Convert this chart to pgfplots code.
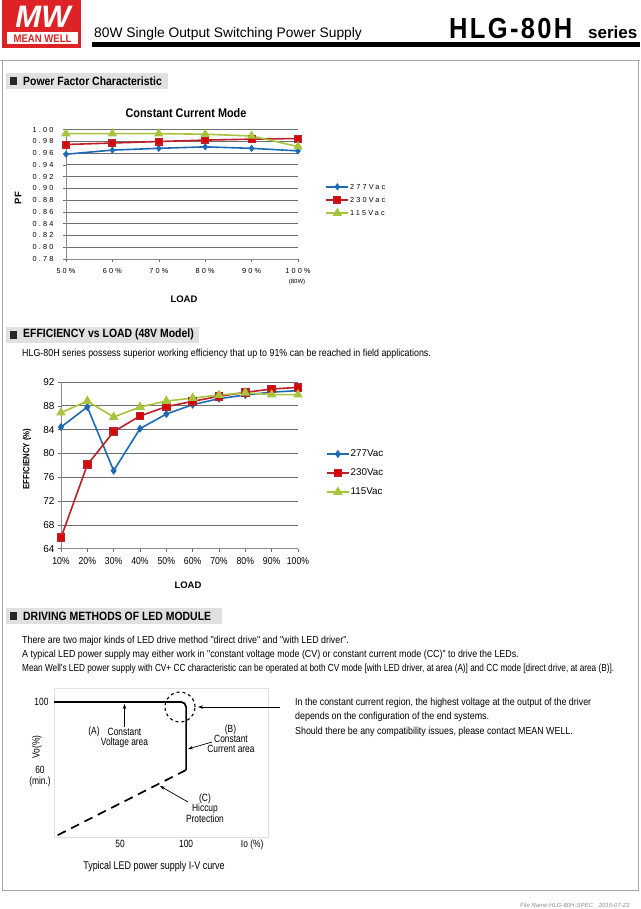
\documentclass[border=0pt]{standalone}
\usepackage{fontspec}
\setmainfont{Liberation Sans}
\newfontfamily\cond[FakeStretch=0.87]{Liberation Sans}
\newfontfamily\narrow[FakeStretch=0.80]{Liberation Sans}
\newfontfamily\spaced[LetterSpace=30]{Liberation Sans}
\newfontfamily\wide[FakeStretch=0.88,LetterSpace=8]{Liberation Sans}
\usepackage{pgfplots}
\usepackage{pgfplotstable}
\pgfplotsset{compat=1.18}
\usetikzlibrary{arrows.meta}

\newcommand\fs[1]{\fontsize{#1}{#1}\selectfont}

\definecolor{logored}{RGB}{221,35,38}
\definecolor{cblue}{RGB}{29,107,180}
\definecolor{cred}{RGB}{190,30,40}
\definecolor{cgreen}{RGB}{166,196,60}
\definecolor{boxgray}{RGB}{224,224,224}
\definecolor{framegray}{RGB}{165,165,165}
\definecolor{gridgray}{RGB}{110,110,110}

% power factor, constant current mode
\pgfplotstableread{
load v277   v230   v115
50   0.958  0.9745 0.993
60   0.965  0.977  0.993
70   0.968  0.9796 0.993
80   0.9705 0.982  0.992
90   0.968  0.9836 0.989
100  0.9637 0.9847 0.971
}\pftable

% efficiency vs load, 48V model
\pgfplotstableread{
load v277  v230  v115
10   84.44 65.85 86.85
20   87.80 78.10 88.80
30   77.10 83.66 86.12
40   84.16 86.29 87.80
50   86.62 87.86 88.80
60   88.19 88.75 89.30
70   89.20 89.60 89.80
80   89.82 90.26 90.20
90   90.30 90.82 89.87
100  90.55 91.10 89.87
}\efftable

\pgfplotsset{
  sheet/.style={
    scale only axis, anchor=south west, clip=false,
    axis x line*=bottom, axis y line*=left,
    axis line style={gridgray!80, line width=0.8pt},
    ymajorgrids, grid style={gridgray, line width=0.7pt},
    tick style={gridgray, line width=0.6pt},
    major tick length=3pt, tick align=outside,
    legend cell align=left,
    legend image code/.code={\draw[##1, mark repeat=2, mark phase=2]
      plot coordinates {(0pt,0pt) (11pt,0pt) (22pt,0pt)};},
  },
  s277/.style={cblue, line width=1.6pt, mark=diamond*, mark options={fill=cblue}},
  s230/.style={cred, line width=1.6pt, mark=square*, mark options={fill=red!85!black}},
  s115/.style={cgreen, line width=1.6pt, mark=triangle*, mark options={fill=cgreen}},
}

\begin{document}
\begin{tikzpicture}[x=1pt,y=1pt]
\useasboundingbox (0,0) rectangle (640,-909);
\fill[white] (0,0) rectangle (640,-909);

% header
\fill[logored] (2,0) rectangle (81,-48);
\node[white, font=\bfseries\itshape\fs{31}, inner sep=0, anchor=base] at (43,-27.5) {MW};
\fill[white] (7,-32) rectangle (78,-44.5);
\node[logored, font=\cond\bfseries\fs{11}, inner sep=0] at (42.5,-38.3) {MEAN WELL};
\node[anchor=base west, inner sep=0, font=\fs{13.8}] at (94,-38) {80W Single Output Switching Power Supply};
\fill[black] (92,-42.5) rectangle (640,-47);
\node[anchor=base west, inner sep=0, font=\wide\bfseries\fs{29}] at (449,-39) {HLG-80H};
\node[anchor=base west, inner sep=0, font=\bfseries\fs{17}] at (588,-39) {series};

% page frame
\draw[framegray, line width=0.8pt] (0,-60) -- (640,-60);
\draw[framegray, line width=0.8pt] (2,-60) -- (2,-890) -- (638,-890) -- (638,-60);

% section headings
\fill[boxgray] (6,-73.5) rectangle (168,-89.5);
\fill[black!85] (9.5,-77.5) rectangle (16.5,-85.5);
\node[anchor=west, inner sep=0, font=\cond\bfseries\fs{12}] at (23,-81.5) {Power Factor Characteristic};

\fill[boxgray] (6,-326.5) rectangle (199,-342.5);
\fill[black!85] (9.5,-330.5) rectangle (16.5,-338.5);
\node[anchor=west, inner sep=0, font=\cond\bfseries\fs{12}] at (23,-334.5) {EFFICIENCY vs LOAD (48V Model)};

\fill[boxgray] (6,-608) rectangle (222,-624);
\fill[black!85] (9.5,-612) rectangle (16.5,-620);
\node[anchor=west, inner sep=0, font=\cond\bfseries\fs{12}] at (23,-616) {DRIVING METHODS OF LED MODULE};

% ---- power factor chart
\node[font=\cond\bfseries\fs{12.5}, inner sep=0] at (186,-113) {Constant Current Mode};
\begin{axis}[sheet,
  at={(66pt,-259pt)}, width=232pt, height=129.5pt,
  xmin=50, xmax=100, ymin=0.78, ymax=1.00,
  xtick={50,60,70,80,90,100},
  xticklabels={50\%,60\%,70\%,80\%,90\%,100\%},
  ytick={0.78,0.80,0.82,0.84,0.86,0.88,0.90,0.92,0.94,0.96,0.98,1.00},
  yticklabels={0.78,0.80,0.82,0.84,0.86,0.88,0.90,0.92,0.94,0.96,0.98,1.00},
  tick label style={font=\spaced\fs{7.3}},
  xticklabel style={yshift=-3pt},
  yticklabel style={xshift=-6pt},
  legend style={at={(1.105,0.456)}, anchor=west, draw=none, fill=none,
    font=\spaced\fs{7.3}, row sep=6pt,
    nodes={inner xsep=1pt, inner ysep=0pt, text height=6pt, text depth=1pt}},
]
\addplot[s277, mark size=2.4pt] table[x=load, y=v277] {\pftable};
\addplot[s230, mark size=3.2pt] table[x=load, y=v230] {\pftable};
\addplot[s115, mark size=3.8pt] table[x=load, y=v115] {\pftable};
\legend{277Vac,230Vac,115Vac}
\end{axis}
\node[font=\fs{6}, inner sep=0] at (297,-282) {(80W)};
\node[font=\bfseries\fs{9.5}, inner sep=0] at (184,-299) {LOAD};
\node[font=\bfseries\fs{9.5}, inner sep=0, rotate=90] at (18,-198) {PF};

% ---- efficiency chart
\node[anchor=base west, inner sep=0, font=\cond\fs{10.2}] at (22,-356.5) {HLG-80H series possess superior working efficiency that up to 91\% can be reached in field applications.};
\begin{axis}[sheet,
  at={(61pt,-548.7pt)}, width=237pt, height=166.7pt,
  xmin=10, xmax=100, ymin=64, ymax=92,
  xtick={10,20,...,100},
  xticklabels={10\%,20\%,30\%,40\%,50\%,60\%,70\%,80\%,90\%,100\%},
  ytick={64,68,72,76,80,84,88,92},
  yticklabels={64,68,72,76,80,84,88,92},
  tick label style={font=\fs{10}},
  xticklabel style={font=\cond\fs{10}, yshift=-2pt},
  legend style={at={(1.105,0.454)}, anchor=west, draw=none, fill=none,
    font=\fs{9.8}, row sep=8.5pt,
    nodes={inner xsep=1pt, inner ysep=0pt, text height=8pt, text depth=2.5pt}},
]
\addplot[s277, mark size=2.8pt] table[x=load, y=v277] {\efftable};
\addplot[s230, mark size=3.5pt] table[x=load, y=v230] {\efftable};
\addplot[s115, mark size=4pt] table[x=load, y=v115] {\efftable};
\legend{277Vac,230Vac,115Vac}
\end{axis}
\node[font=\bfseries\fs{9.5}, inner sep=0] at (188,-585) {LOAD};
\node[font=\cond\bfseries\fs{9}, inner sep=0, rotate=90] at (27,-459) {EFFICIENCY (\%)};

% ---- driving methods text
\begin{scope}[every node/.style={anchor=base west, inner sep=0, font=\cond\fs{10.2}}]
\node at (22,-643.5) {There are two major kinds of LED drive method "direct drive" and "with LED driver".};
\node at (22,-657.5) {A typical LED power supply may either work in "constant voltage mode (CV) or constant current mode (CC)" to drive the LEDs.};
\node[font=\narrow\fs{10.3}] at (22,-671.5) {Mean Well's LED power supply with CV+ CC characteristic can be operated at both CV mode [with LED driver, at area (A)] and CC mode [direct drive, at area (B)].};
\node at (295,-705.5) {In the constant current region, the highest voltage at the output of the driver};
\node at (295,-719.5) {depends on the configuration of the end systems.};
\node at (295,-734.5) {Should there be any compatibility issues, please contact MEAN WELL.};
\end{scope}

% ---- I-V curve
\begin{axis}[
  at={(54pt,-837pt)}, anchor=south west, scale only axis, clip=false,
  width=214pt, height=149pt,
  xmin=0, xmax=162, ymin=20.6, ymax=108.2,
  axis line style={black!12, line width=0.6pt},
  xtick={50,100,150}, xticklabels={50,100,Io (\%)},
  ytick={100}, yticklabels={100},
  major tick length=0pt,
  tick label style={font=\narrow\fs{10.5}},
  xticklabel style={inner sep=0pt, yshift=-3pt},
  yticklabel style={xshift=-2pt},
]
\addplot[black, line width=1.7pt, rounded corners=5pt] coordinates {(0,100) (100,100) (100,60)};
\addplot[black, line width=1.7pt, dash pattern=on 9pt off 6pt] coordinates {(100,60) (0,20.6)};
\end{axis}
\node[font=\narrow\fs{10.5}, inner sep=0] at (40,-770) {60};
\node[font=\narrow\fs{10.5}, inner sep=0] at (40,-782) {(min.)};
\node[font=\narrow\fs{10.5}, inner sep=0, rotate=90] at (37,-747) {Vo(\%)};
\draw[line width=1.1pt, dash pattern=on 3pt off 3pt] (180,-707) circle [radius=15];
\begin{scope}[-{Stealth[length=5pt,width=3.5pt]}, line width=0.7pt]
\draw (280,-707) -- (198,-707);
\draw (124.5,-727) -- (124.5,-704);
\draw (212,-742) -- (188,-749);
\draw (188,-802) -- (160,-786);
\end{scope}
\begin{scope}[every node/.style={inner sep=0, font=\narrow\fs{10.5}}]
\node at (94,-732) {(A)};
\node at (124.5,-732) {Constant};
\node at (124.5,-743) {Voltage area};
\node at (230.5,-730) {(B)};
\node at (231,-738.5) {Constant};
\node at (231,-748.5) {Current area};
\node at (205,-799) {(C)};
\node at (205,-808.5) {Hiccup};
\node at (205,-818.5) {Protection};
\node[font=\narrow\fs{11.2}] at (154,-867) {Typical LED power supply I-V curve};
\end{scope}

% footer
\node[anchor=base west, inner sep=0, font=\itshape\fs{6}, text=black!45] at (520,-907) {File Name:HLG-80H-SPEC\quad 2015-07-23};
\end{tikzpicture}
\end{document}
